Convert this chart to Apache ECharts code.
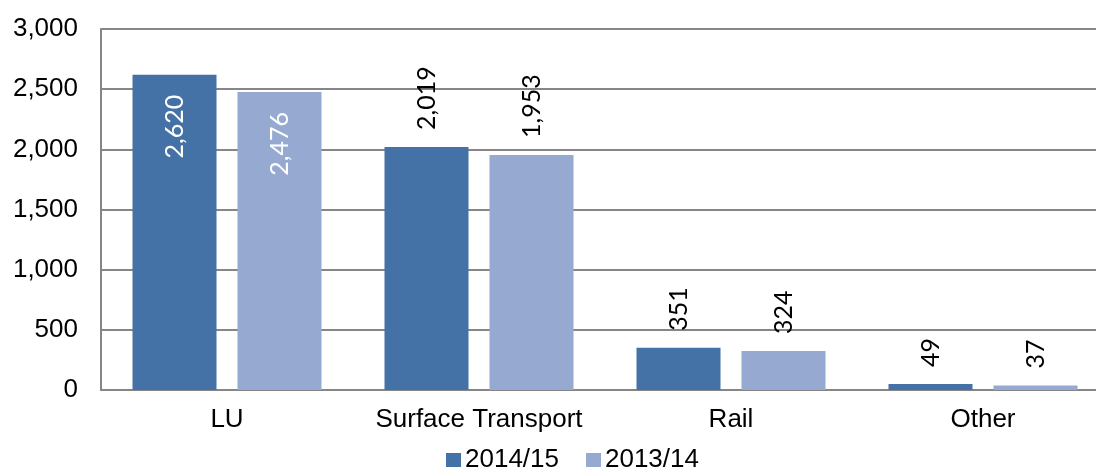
<!DOCTYPE html>
<html>
<head>
<meta charset="utf-8">
<script src="https://cdn.jsdelivr.net/npm/echarts@6/dist/echarts.min.js"></script>
<style>
  html, body { margin: 0; padding: 0; background: #fff; overflow: hidden; }
  /* the plot runs past the right edge of the picture, so the canvas is a bit wider */
  #chart { width: 1110px; height: 467px; }
</style>
</head>
<body>
<div id="chart"></div>
<script>
// data
const categories = ['LU', 'Surface Transport', 'Rail', 'Other']
const seriesNames = ['2014/15', '2013/14']
const values1415 = [2620, 2019, 351, 49]
const values1314 = [2476, 1953, 324, 37]
const yTicks = [0, 500, 1000, 1500, 2000, 2500, 3000]

const fmt = v => v.toLocaleString('en-US')

// LU labels sit inside the bar in white, others above in black
function barData (values) {
  return values.map((v, i) => {
    if (i !== 0) return v
    return {
      value: v,
      label: {
        position: 'insideTop',
        align: 'right',
        distance: 20,
        color: '#ffffff'
      }
    }
  })
}

const labelStyle = {
  show: true,
  position: 'top',
  rotate: 90,
  align: 'left',
  verticalAlign: 'middle',
  distance: 17,
  fontFamily: 'Lato',
  fontSize: 25,
  color: '#000',
  formatter: p => fmt(p.value)
}

const axisFont = { fontFamily: 'Liberation Sans', fontSize: 26, color: '#000' }

const myChart = echarts.init(document.getElementById('chart'))
const option = {
  animation: false,
  color: ['#4572A6', '#96AAD1'],
  grid: { left: 101, right: 1, top: 29, bottom: 77 },
  legend: {
    data: seriesNames,
    left: 446,
    top: 447,
    padding: 0,
    itemWidth: 15,
    itemHeight: 14,
    itemGap: 27,
    icon: 'rect',
    textStyle: { fontFamily: 'Liberation Sans', fontSize: 26, color: '#000', padding: [0, 0, 0, -1] }
  },
  xAxis: {
    type: 'category',
    data: categories,
    axisTick: { show: false },
    axisLine: { lineStyle: { color: '#868686', width: 2 } },
    axisLabel: Object.assign({ margin: 17, interval: 0 }, axisFont)
  },
  yAxis: {
    type: 'value',
    min: yTicks[0],
    max: yTicks[yTicks.length - 1],
    interval: 500,
    axisLine: { show: true, lineStyle: { color: '#868686', width: 2 } },
    axisTick: { show: false },
    axisLabel: Object.assign({ margin: 23, formatter: v => fmt(v) }, axisFont),
    splitLine: { lineStyle: { color: '#868686', width: 2 } }
  },
  series: [
    {
      name: seriesNames[0],
      type: 'bar',
      barWidth: 84,
      barGap: '25%',
      label: labelStyle,
      data: barData(values1415)
    },
    {
      name: seriesNames[1],
      type: 'bar',
      barWidth: 84,
      barGap: '25%',
      label: labelStyle,
      data: barData(values1314)
    }
  ]
}
myChart.setOption(option, true)
</script>
</body>
</html>
